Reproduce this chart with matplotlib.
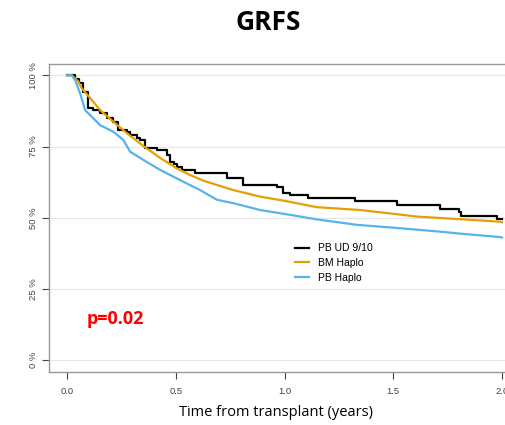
import numpy as np
import matplotlib
matplotlib.use('Agg')
import matplotlib.pyplot as plt

# GRFS curves (time in years, survival in %)
ud_time = [0, 0.022, 0.037, 0.055, 0.075, 0.098, 0.121, 0.152, 0.183, 0.213, 0.236, 0.275,
           0.290, 0.321, 0.336, 0.359, 0.412, 0.459, 0.474, 0.490, 0.505, 0.528, 0.589,
           0.735, 0.811, 0.965, 0.995, 1.026, 1.110, 1.325, 1.517, 1.716, 1.800, 1.811,
           1.977, 2.0]
ud_surv = [100, 100, 98.9, 97.4, 94.2, 88.4, 87.8, 86.7, 85.2, 83.7, 80.8, 80.2,
           79.0, 77.9, 77.3, 74.4, 73.8, 72.0, 69.7, 68.9, 67.9, 66.8, 65.6,
           63.8, 61.5, 60.7, 58.8, 58.0, 56.8, 55.9, 54.5, 53.1, 52.1, 50.7,
           49.4, 49.4]

bm_time = [0, 0.022, 0.052, 0.068, 0.121, 0.152, 0.213, 0.275, 0.351, 0.428, 0.505,
           0.566, 0.627, 0.689, 0.765, 0.888, 0.995, 1.149, 1.348, 1.486, 1.608,
           1.823, 1.992, 2.0]
bm_surv = [100, 100, 97.8, 95.4, 90.7, 87.8, 83.7, 79.7, 75.2, 71.0, 67.3,
           65.0, 63.0, 61.5, 59.7, 57.4, 56.0, 53.7, 52.7, 51.5, 50.4,
           49.4, 48.6, 48.4]

pb_time = [0, 0.022, 0.037, 0.060, 0.083, 0.121, 0.152, 0.213, 0.259, 0.290, 0.351,
           0.428, 0.520, 0.612, 0.689, 0.765, 0.888, 1.026, 1.149, 1.333, 1.532,
           1.716, 1.823, 1.992, 2.0]
pb_surv = [100, 100, 98.3, 93.7, 87.8, 84.9, 82.5, 80.2, 77.3, 73.2, 70.3,
           66.8, 63.2, 59.7, 56.3, 55.1, 52.7, 51.0, 49.4, 47.5, 46.3,
           45.1, 44.3, 43.2, 43.0]

labels = ['PB UD 9/10', 'BM Haplo', 'PB Haplo']
colors = ['#000000', '#E69F00', '#56B4E9']
xticks = [0.0, 0.5, 1.0, 1.5, 2.0]
yticks = [0, 25, 50, 75, 100]

fig = plt.figure(figsize=(5.06, 4.25), dpi=100)
ax = fig.add_axes([49 / 506, 1 - 372 / 425, 1 - 49 / 506, (372 - 64) / 425])

ax.plot(ud_time, ud_surv, drawstyle='steps-post', color=colors[0], lw=1.6, label=labels[0])
ax.plot(bm_time, bm_surv, color=colors[1], lw=1.6, label=labels[1])
ax.plot(pb_time, pb_surv, color=colors[2], lw=1.6, label=labels[2])

ax.set_xlim(-0.083, 2.018)
ax.set_ylim(-4.2, 104)
for y in yticks:
    ax.axhline(y, color='#e6e6e6', lw=0.8, zorder=0)

ax.set_xticks(xticks)
ax.set_xticklabels([f'{x:.1f}' for x in xticks], fontsize=6.8, family='Liberation Sans')
ax.set_yticks(yticks)
ax.set_yticklabels([f'{y} %' for y in yticks], fontsize=6.8, family='Liberation Sans',
                   rotation=90, va='center')
ax.tick_params(colors='#444444', length=5, width=0.8, pad=6)
ax.tick_params(axis='y', pad=3)
for s in ['left', 'bottom', 'top']:
    ax.spines[s].set_color('#999999')
    ax.spines[s].set_linewidth(1.0)
ax.spines['right'].set_visible(False)

ax.legend(loc='upper left', bbox_to_anchor=(286 / 506, 1 - 234 / 425),
          bbox_transform=fig.transFigure, frameon=False,
          handlelength=1.3, labelspacing=0.45, handletextpad=0.9,
          prop={'family': 'Liberation Sans', 'size': 7.5})

fig.text(87 / 506, 1 - 319 / 425, 'p=0.02', color='red', fontsize=13,
         fontweight='bold', family='Open Sans', va='center', ha='left')
fig.text(268 / 506, 1 - 23 / 425, 'GRFS', fontsize=19, fontweight='bold',
         family='Open Sans', ha='center', va='center')
fig.text(276 / 506, 1 - 412 / 425, 'Time from transplant (years)', fontsize=10.5,
         family='Open Sans', ha='center', va='center')

fig.savefig('out.png', dpi=100)
